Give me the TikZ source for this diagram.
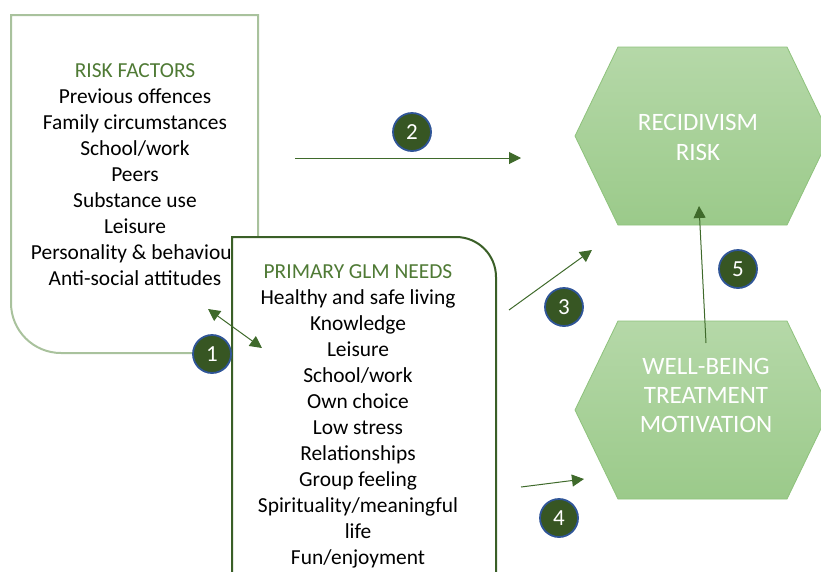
\documentclass[tikz,border=0pt]{standalone}
\usepackage{fontspec}
\setmainfont{Carlito}
\usetikzlibrary{arrows.meta}

\definecolor{riskline}{HTML}{A9C29D}
\definecolor{glmline}{HTML}{3A5F27}
\definecolor{headgreen}{HTML}{4F7A35}
\definecolor{hextop}{HTML}{B5D8A8}
\definecolor{hexbot}{HTML}{9BCA8A}
\definecolor{hexline}{HTML}{8EC27C}
\definecolor{badgegreen}{HTML}{375623}
\definecolor{badgeblue}{HTML}{2F5597}
\definecolor{linkgreen}{HTML}{3F6A2B}

\begin{document}
\begin{tikzpicture}[x=1pt,y=-1pt,
  listtext/.style={align=center,font=\fontsize{21.4}{26}\selectfont},
  hextext/.style={align=center,text=white,font=\fontsize{25}{30}\selectfont},
  hexshade/.style={top color=hextop,bottom color=hexbot,draw=hexline,line width=0.8pt},
  badge/.style={circle,minimum size=38pt,inner sep=0pt,fill=badgegreen,draw=badgeblue,
    line width=1.8pt,text=white,font=\fontsize{23}{23}\selectfont},
  link/.style={draw=linkgreen,line width=1pt,-{Triangle[length=12pt,width=12pt]}}]
\useasboundingbox (0,0) rectangle (821,571);

% risk factors box, round corner bottom left
\draw[riskline,line width=2pt] (11,303) -- (11,15) -- (258,15) -- (258,353) -- (61,353)
  .. controls (33.4,353) and (11,330.6) .. (11,303) -- cycle;
\node[listtext] (risk) at (135,175) {\textcolor{headgreen}{RISK FACTORS}\\Previous offences\\
  Family circumstances\\School/work\\Peers\\Substance use\\Leisure\\
  Personality \& behaviour\\Anti-social attitudes};

% GLM needs box, runs off the bottom
\draw[glmline,fill=white,line width=2pt] (232,600) -- (232,237) -- (456,237)
  .. controls (478.1,237) and (496,254.9) .. (496,277) -- (496,600);
\node[listtext] (glm) at (358,416.5) {\textcolor{headgreen}{PRIMARY GLM NEEDS}\\
  Healthy and safe living\\Knowledge\\Leisure\\School/work\\Own choice\\Low stress\\
  Relationships\\Group feeling\\Spirituality/meaningful\\life\\Fun/enjoyment};

% outcome hexagons
\foreach \cy in {136,410}
  {\path[hexshade] (575,\cy) -- (618,\cy-89) -- (787,\cy-89) -- (830,\cy)
     -- (787,\cy+89) -- (618,\cy+89) -- cycle;}
\node[hextext] (recid) at (698,137.5) {RECIDIVISM\\RISK};
\node[hextext,font=\fontsize{25}{29}\selectfont] (wellb) at (706,395) {WELL-BEING\\TREATMENT\\MOTIVATION};

% arrows
\coordinate (s1) at (208,309);
\coordinate (e1) at (262,348);
\draw[link,{Triangle[length=12pt,width=12pt]}-{Triangle[length=12pt,width=12pt]}] (s1) -- (e1);
\foreach \n/\sx/\sy/\ex/\ey in {2/295/158/521/158,3/509/310/592/250,4/521/487/584/479,5/706/343/699/206}
  {\coordinate (s\n) at (\sx,\sy);
   \coordinate (e\n) at (\ex,\ey);
   \draw[link] (s\n) -- (e\n);}

% numbered badges
\foreach \n/\bx/\by in {1/212/354,2/412/132,3/564/307,4/559/518,5/738/269}
  {\node[badge] (b\n) at (\bx,\by) {\n};}
\end{tikzpicture}
\end{document}
